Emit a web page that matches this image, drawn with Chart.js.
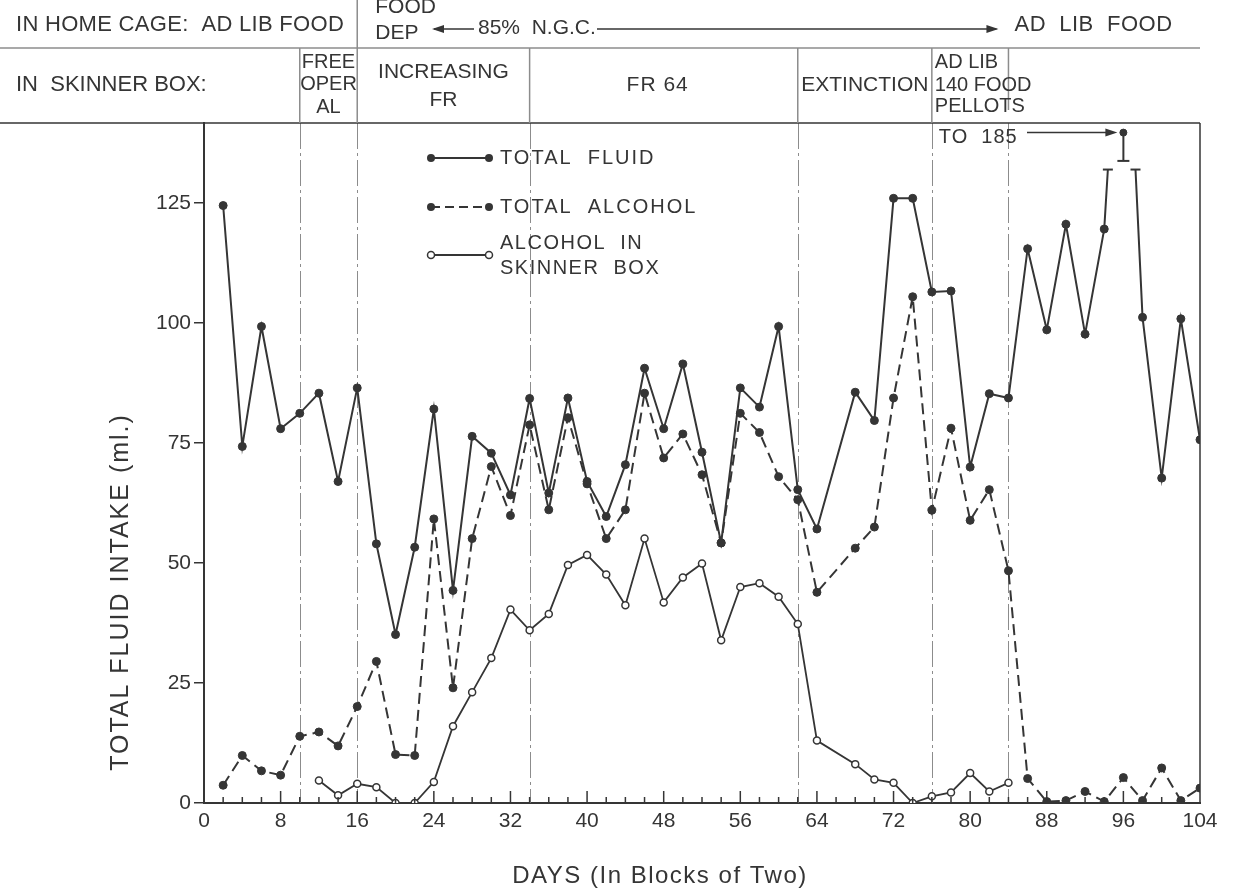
<!DOCTYPE html>
<html>
<head>
<meta charset="utf-8">
<script src="https://cdn.jsdelivr.net/npm/chart.js@4.4.1/dist/chart.umd.min.js"></script>
<style>
  html, body { margin: 0; padding: 0; background: #fff; }
  #wrap { width: 1236px; height: 892px; }
</style>
</head>
<body>
<div id="wrap"><canvas id="chart" width="1236" height="892"></canvas></div>
<script>
// --- values (x = day, blocks of two) ---
const days = [2, 4, 6, 8, 10, 12, 14, 16, 18, 20, 22, 24, 26, 28, 30, 32, 34, 36, 38, 40,
              42, 44, 46, 48, 50, 52, 54, 56, 58, 60, 62, 64, 68, 70, 72, 74, 76, 78, 80,
              82, 84, 86, 88, 90, 92, 94, 96, 98, 100, 102, 104];
const totalFluid = [124.5, 74.3, 99.3, 78, 81.2, 85.4, 67, 86.5, 54, 35.1, 53.3, 82.1, 44.3, 76.4,
                    72.9, 64.2, 84.3, 64.6, 84.4, 67, 59.7, 70.5, 90.6, 78, 91.5, 73.1, 54.2, 86.5,
                    82.5, 99.3, 65.3, 57.1, 85.6, 79.7, 126, 126, 106.5, 106.7, 70, 85.3, 84.4,
                    115.5, 98.6, 120.6, 97.7, 119.6, 185, 101.2, 67.7, 100.9, 75.7];
const totalAlcohol = [3.7, 9.9, 6.7, 5.8, 13.9, 14.8, 11.9, 20.1, 29.5, 10.1, 9.9, 59.2, 24, 55.1,
                      70.1, 59.9, 78.8, 61.1, 80.3, 66.5, 55.1, 61.1, 85.4, 71.9, 76.9, 68.4, 54.2,
                      81.2, 77.2, 68, 63.2, 43.9, 53.1, 57.5, 84.4, 105.5, 61, 78.1, 58.9, 65.3, 48.4,
                      5.1, 0.3, 0.5, 2.4, 0.3, 5.3, 0.5, 7.3, 0.5, 3.1];
const boxDays = [12, 14, 16, 18, 20, 22, 24, 26, 28, 30, 32, 34, 36, 38, 40, 42, 44, 46, 48, 50,
                 52, 54, 56, 58, 60, 62, 64, 68, 70, 72, 74, 76, 78, 80, 82, 84];
const boxAlcohol = [4.7, 1.6, 4, 3.3, 0, 0, 4.4, 16, 23.1, 30.2, 40.3, 36, 39.4, 49.6, 51.7, 47.6,
                    41.2, 55.1, 41.8, 47, 49.9, 33.9, 45, 45.8, 43, 37.3, 13, 8.1, 4.9, 4.2, 0, 1.4,
                    2.2, 6.25, 2.4, 4.2];

// the 185 ml block is drawn off scale: line broken at breakAt, marker plotted at offScale
const breakAt = 132;
const offScaleDay = 96;
const offScaleBase = 133.8;
const offScaleTop = 139.7;
const offScaleNote = 'TO  185';

const yTicks = [0, 25, 50, 75, 100, 125];
const phaseDays = [10, 16, 34, 62, 76, 84];

const homeCageTitle = 'IN HOME CAGE:  AD LIB FOOD';
const foodDep = ['FOOD', 'DEP'];
const ngcLabel = '85%  N.G.C.';
const adLibEnd = 'AD  LIB  FOOD';
const boxTitle = 'IN  SKINNER BOX:';
const freeOper = ['FREE', 'OPER', 'AL'];
const increasing = ['INCREASING', 'FR'];
const fr64 = 'FR 64';
const extinction = 'EXTINCTION';
const adLibPellets = ['AD LIB', '140 FOOD', 'PELLOTS'];
const legendNames = ['TOTAL  FLUID', 'TOTAL  ALCOHOL', ['ALCOHOL  IN', 'SKINNER  BOX']];
const yTitle = 'TOTAL FLUID INTAKE (ml.)';
const xTitle = 'DAYS (In Blocks of Two)';

const ink = '#353535';
const faint = '#8c8c8c';
const FONT = '"Liberation Sans", Arial, sans-serif';

// split the fluid line where it runs off the top of the scale
function brokenFluid() {
    const pts = [];
    for (let i = 0; i < days.length; i++) {
        const v = totalFluid[i];
        if (v > breakAt) {
            const x0 = days[i - 1], v0 = totalFluid[i - 1];
            const x1 = days[i + 1], v1 = totalFluid[i + 1];
            pts.push({ x: x0 + (breakAt - v0) / (v - v0) * (days[i] - x0), y: breakAt, cap: true });
            pts.push({ x: days[i], y: null });
            pts.push({ x: days[i] + (v - breakAt) / (v - v1) * (x1 - days[i]), y: breakAt, cap: true });
        } else {
            pts.push({ x: days[i], y: v });
        }
    }
    return pts;
}

const zip = (xs, ys) => xs.map((x, i) => ({ x, y: ys[i] }));

function say(ctx, s, x, y, size, align, spacing) {
    ctx.font = size + 'px ' + FONT;
    ctx.textAlign = align || 'left';
    ctx.textBaseline = 'middle';
    ctx.letterSpacing = (spacing || 0) + 'px';
    ctx.fillText(s, x, y);
    ctx.letterSpacing = '0px';
}

function line(ctx, x1, y1, x2, y2) {
    ctx.beginPath(); ctx.moveTo(x1, y1); ctx.lineTo(x2, y2); ctx.stroke();
}

function arrowHead(ctx, x, y, dir) {
    ctx.beginPath();
    ctx.moveTo(x, y);
    ctx.lineTo(x - dir * 12, y - 4);
    ctx.lineTo(x - dir * 12, y + 4);
    ctx.closePath();
    ctx.fill();
}

const decor = {
    id: 'decor',
    beforeDatasetsDraw(chart) {
        const { ctx, chartArea: a, scales: { x } } = chart;
        ctx.save();
        ctx.strokeStyle = faint;
        ctx.lineWidth = 1;
        ctx.setLineDash([26, 4, 3, 4]);
        phaseDays.forEach(d => {
            const px = Math.round(x.getPixelForValue(d)) + 0.5;
            line(ctx, px, a.top, px, a.bottom);
        });
        ctx.restore();
    },
    afterDraw(chart) {
        const { ctx, chartArea: a, scales: { x, y } } = chart;
        const px = v => x.getPixelForValue(v);
        const py = v => y.getPixelForValue(v);
        ctx.save();
        ctx.fillStyle = ink;
        ctx.strokeStyle = ink;

        // frame: top rule doubles as header bottom, right edge
        ctx.lineWidth = 1.5;
        line(ctx, 0, a.top, a.right, a.top);
        line(ctx, a.right, a.top, a.right, a.bottom);

        // x minor ticks, pointing up into the plot
        for (let d = 2; d < 104; d += 2) {
            const len = d % 8 === 0 ? 12 : 6;
            line(ctx, px(d), a.bottom, px(d), a.bottom - len);
        }

        // header rows
        ctx.strokeStyle = faint;
        line(ctx, 0, 48, a.right, 48);
        line(ctx, px(16), 0, px(16), 48);
        phaseDays.forEach(d => line(ctx, px(d), 48, px(d), d === 84 ? 110 : a.top));

        say(ctx, homeCageTitle, 16, 25, 22, 'left', 0.3);
        say(ctx, foodDep[0], px(16) + 18, 7, 21, 'left');
        say(ctx, foodDep[1], px(16) + 18, 33, 21, 'left');
        ctx.strokeStyle = ink;
        line(ctx, 434, 29, 474, 29);
        arrowHead(ctx, 432, 29, -1);
        say(ctx, ngcLabel, 478, 28, 21, 'left');
        line(ctx, 597, 29, px(84) - 12, 29);
        arrowHead(ctx, px(84) - 10, 29, 1);
        say(ctx, adLibEnd, px(84) + 6, 25, 22, 'left', 0.5);

        say(ctx, boxTitle, 16, 85, 22, 'left');
        const cFree = (px(10) + px(16)) / 2;
        say(ctx, freeOper[0], cFree, 62, 20, 'center');
        say(ctx, freeOper[1], cFree, 84, 20, 'center');
        say(ctx, freeOper[2], cFree, 107, 20, 'center');
        const cInc = (px(16) + px(34)) / 2;
        say(ctx, increasing[0], cInc, 72, 21, 'center');
        say(ctx, increasing[1], cInc, 100, 21, 'center');
        say(ctx, fr64, (px(34) + px(62)) / 2 - 6, 85, 21, 'center', 1);
        say(ctx, extinction, (px(62) + px(76)) / 2, 85, 21, 'center');
        say(ctx, adLibPellets[0], px(76) + 3, 62, 20, 'left');
        say(ctx, adLibPellets[1], px(76) + 3, 85, 20, 'left');
        say(ctx, adLibPellets[2], px(76) + 3, 106, 20, 'left');

        // off-scale note with arrow to the marker
        say(ctx, offScaleNote, px(76) + 7, 137, 20, 'left', 1);
        const ay = py(offScaleTop);
        line(ctx, 1027, ay, px(offScaleDay) - 14, ay);
        arrowHead(ctx, px(offScaleDay) - 6, ay, 1);

        // legend
        const lx0 = 431, lx1 = 489;
        const rows = [158, 207, 255];
        ctx.lineWidth = 2;
        rows.forEach((ry, i) => {
            ctx.setLineDash(i === 1 ? [9, 5] : []);
            line(ctx, lx0, ry, lx1, ry);
            ctx.setLineDash([]);
            [lx0, lx1].forEach(cx => {
                ctx.beginPath();
                ctx.arc(cx, ry, i === 2 ? 3.5 : 4, 0, Math.PI * 2);
                if (i === 2) {
                    ctx.fillStyle = '#fff'; ctx.fill();
                    ctx.lineWidth = 1.5; ctx.stroke(); ctx.lineWidth = 2;
                    ctx.fillStyle = ink;
                } else {
                    ctx.fill();
                }
            });
        });
        say(ctx, legendNames[0], 500, 158, 20, 'left', 2);
        say(ctx, legendNames[1], 500, 207, 20, 'left', 2);
        say(ctx, legendNames[2][0], 500, 243, 20, 'left', 1.5);
        say(ctx, legendNames[2][1], 500, 268, 20, 'left', 1.5);

        // axis titles
        say(ctx, xTitle, 660, 876, 24, 'center', 1.5);
        ctx.save();
        ctx.translate(121, 592);
        ctx.rotate(-Math.PI / 2);
        say(ctx, yTitle, 0, 0, 25, 'center', 2);
        ctx.restore();

        ctx.restore();
    }
};

const fluidPts = brokenFluid();
const isCap = c => c.raw && c.raw.cap;

new Chart(document.getElementById('chart'), {
    type: 'line',
    data: {
        datasets: [
            {
                label: 'Total fluid',
                data: fluidPts,
                borderColor: ink,
                backgroundColor: ink,
                borderWidth: 2,
                pointStyle: c => isCap(c) ? 'line' : 'circle',
                pointRadius: c => isCap(c) ? 5 : 4,
                pointBorderWidth: c => isCap(c) ? 2 : 1,
                spanGaps: false,
                tension: 0
            },
            {
                label: 'Total fluid (off scale)',
                data: [{ x: offScaleDay, y: offScaleBase, cap: true }, { x: offScaleDay, y: offScaleTop }],
                borderColor: ink,
                backgroundColor: ink,
                borderWidth: 2,
                pointStyle: c => isCap(c) ? 'line' : 'circle',
                pointRadius: c => isCap(c) ? 6 : 3.5,
                pointBorderWidth: c => isCap(c) ? 2 : 1,
                clip: false
            },
            {
                label: 'Total alcohol',
                data: zip(days, totalAlcohol),
                borderColor: ink,
                backgroundColor: ink,
                borderWidth: 2,
                borderDash: [11, 6],
                pointRadius: 4,
                pointBorderWidth: 1,
                tension: 0
            },
            {
                label: 'Alcohol in Skinner box',
                data: zip(boxDays, boxAlcohol),
                borderColor: ink,
                backgroundColor: '#fff',
                borderWidth: 1.8,
                pointRadius: 3.5,
                pointBorderWidth: 1.5,
                tension: 0
            }
        ]
    },
    options: {
        responsive: false,
        animation: false,
        events: [],
        layout: { padding: { left: 104, top: 123, right: 36, bottom: 49 } },
        plugins: { legend: { display: false }, tooltip: { enabled: false } },
        scales: {
            x: {
                type: 'linear',
                min: 0,
                max: 104,
                ticks: { stepSize: 8, color: ink, padding: 6, font: { family: FONT, size: 21 } },
                grid: { drawOnChartArea: false, drawTicks: false },
                border: { color: ink, width: 2 },
                afterFit: s => { s.height = 40; }
            },
            y: {
                min: 0,
                max: 141.7,
                afterBuildTicks: s => { s.ticks = yTicks.map(v => ({ value: v })); },
                ticks: { color: ink, padding: 3, font: { family: FONT, size: 21 } },
                grid: { drawOnChartArea: false, tickLength: 10, color: ink, lineWidth: 1.5 },
                border: { color: ink, width: 2 },
                afterFit: s => { s.width = 100; }
            }
        }
    },
    plugins: [decor]
});
</script>
</body>
</html>
